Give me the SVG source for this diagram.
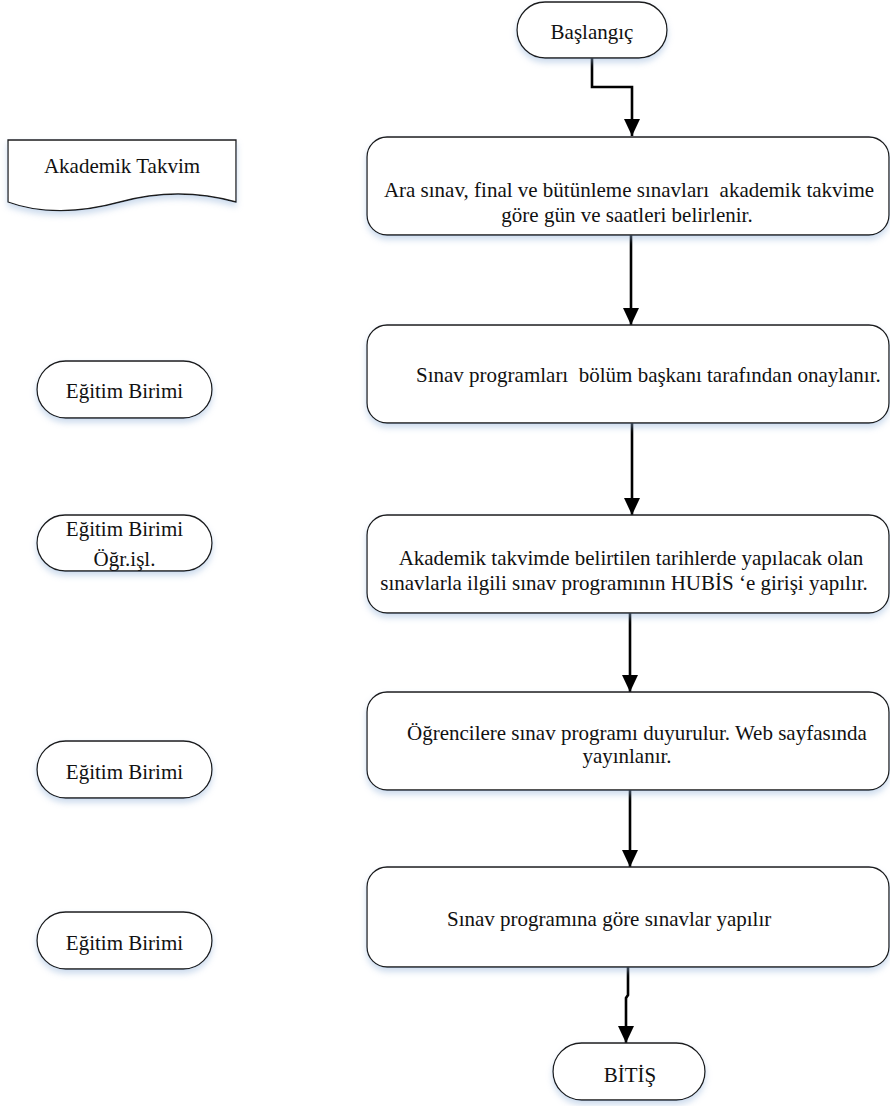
<svg xmlns="http://www.w3.org/2000/svg" width="890" height="1106" viewBox="0 0 890 1106">
<defs>
<style>
.n{fill:#ffffff;stroke:#1a1a1a;stroke-width:1.3;filter:url(#sh)}
.t{font-family:"Liberation Serif","Times New Roman",serif;font-size:21px;fill:#111;white-space:pre}
.m{text-anchor:middle}
.c{fill:none;stroke:#000;stroke-width:2.6;marker-end:url(#arr)}
</style>
<filter id="sh" x="-10%" y="-20%" width="120%" height="150%">
<feDropShadow dx="0" dy="4" stdDeviation="3" flood-color="#8fb0d8" flood-opacity="0.45"/>
</filter>
<marker id="arr" viewBox="0 0 17 16" markerWidth="17" markerHeight="16" refX="17" refY="8" orient="auto" markerUnits="userSpaceOnUse">
<path d="M0,0 L17,8 L0,16 Z" fill="#000"/>
</marker>
</defs>
<rect width="890" height="1106" fill="#ffffff"/>

<g id="connectors">
<path class="c" d="M592,58 V87 H632 V136"/>
<path class="c" d="M631,235 V325"/>
<path class="c" d="M632,423 V515"/>
<path class="c" d="M630,613 V692"/>
<path class="c" d="M630,790 V867"/>
<path class="c" d="M628,967 V995 L626,998 V1043"/>
</g>

<g id="start">
<rect class="n" x="517" y="2" width="150" height="56" rx="28" ry="28"/>
<text class="t m" x="592" y="39">Başlangıç</text>
</g>

<g id="akademik-takvim">
<path class="n" d="M8,140 H236 V202 C200,192 160,191 120,202 C80,213 40,214 8,202 Z"/>
<text class="t m" x="122" y="173">Akademik Takvim</text>
</g>

<g id="box1">
<rect class="n" x="367" y="137" width="522" height="98" rx="20" ry="20"/>
<text class="t m" x="629" y="197">Ara sınav, final ve bütünleme sınavları  akademik takvime</text>
<text class="t m" x="627" y="222">göre gün ve saatleri belirlenir.</text>
</g>

<g id="box2">
<rect class="n" x="367" y="325" width="522" height="98" rx="20" ry="20"/>
<text class="t" x="416" y="382">Sınav programları  bölüm başkanı tarafından onaylanır.</text>
</g>

<g id="box3">
<rect class="n" x="367" y="515" width="522" height="98" rx="20" ry="20"/>
<text class="t m" x="631" y="565">Akademik takvimde belirtilen tarihlerde yapılacak olan</text>
<text class="t m" x="624" y="590">sınavlarla ilgili sınav programının HUBİS ‘e girişi yapılır.</text>
</g>

<g id="box4">
<rect class="n" x="367" y="692" width="522" height="98" rx="20" ry="20"/>
<text class="t" x="407" y="740">Öğrencilere sınav programı duyurulur. Web sayfasında</text>
<text class="t m" x="627" y="763">yayınlanır.</text>
</g>

<g id="box5">
<rect class="n" x="367" y="867" width="522" height="100" rx="20" ry="20"/>
<text class="t" x="447" y="926">Sınav programına göre sınavlar yapılır</text>
</g>

<g id="end">
<rect class="n" x="553" y="1043" width="152" height="57" rx="28.5" ry="28.5"/>
<text class="t m" x="630" y="1082">BİTİŞ</text>
</g>

<g id="egitim1">
<rect class="n" x="37" y="361" width="175" height="57" rx="28.5" ry="28.5"/>
<text class="t m" x="124.5" y="398">Eğitim Birimi</text>
</g>

<g id="egitim2">
<rect class="n" x="37" y="515" width="175" height="56" rx="28" ry="28"/>
<text class="t m" x="124.5" y="536">Eğitim Birimi</text>
<text class="t m" x="124.5" y="566">Öğr.işl.</text>
</g>

<g id="egitim3">
<rect class="n" x="37" y="741" width="175" height="57" rx="28.5" ry="28.5"/>
<text class="t m" x="124.5" y="779">Eğitim Birimi</text>
</g>

<g id="egitim4">
<rect class="n" x="37" y="912" width="175" height="57" rx="28.5" ry="28.5"/>
<text class="t m" x="124.5" y="950">Eğitim Birimi</text>
</g>
</svg>
